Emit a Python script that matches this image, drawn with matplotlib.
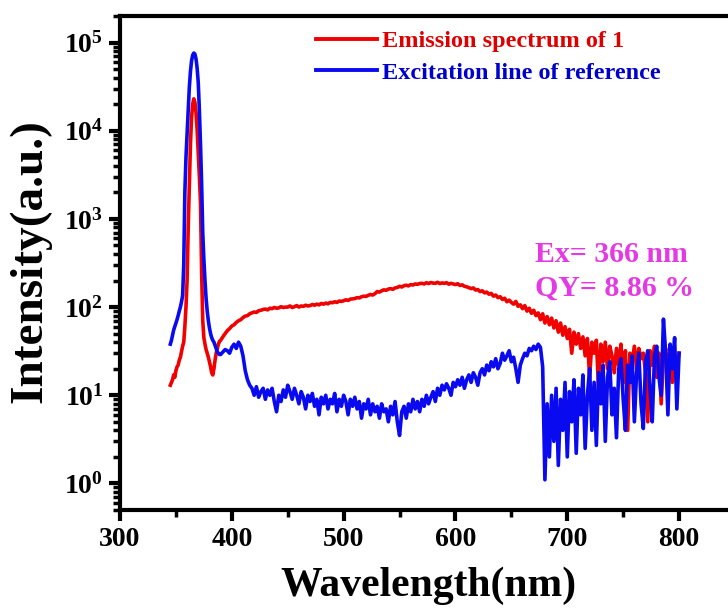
import numpy as np
import matplotlib
matplotlib.use("Agg")
import matplotlib.pyplot as plt
from matplotlib.ticker import FuncFormatter, LogLocator, MultipleLocator

# wavelength grid: 1 nm around the excitation peak, 2 nm after
wl_fine = np.arange(345, 390)
wl_coarse = np.arange(390, 801, 2)
wavelength = np.concatenate([wl_fine, wl_coarse])

emission_fine = [
    13, 14, 15, 17, 16, 19, 21, 22, 25, 27,
    31, 36, 40, 60, 100, 200, 800, 2500, 7000, 14000,
    20000, 23000, 21000, 16000, 10000, 5500, 3000, 1500, 250, 70,
    45, 38, 33, 30, 27, 24, 21, 18, 17, 20,
    25, 30, 34, 38, 41,
]
emission_coarse = [
    42, 46, 50, 54, 57, 61, 63, 67, 70, 72,
    76, 79, 80, 84, 86, 88, 87, 91, 92, 94,
    95, 93, 97, 96, 99, 97, 98, 101, 99, 100,
    100, 103, 99, 101, 104, 100, 103, 102, 105, 103,
    104, 107, 105, 108, 106, 110, 108, 111, 109, 113,
    112, 115, 113, 117, 116, 118, 121, 119, 123, 124,
    125, 128, 127, 131, 133, 132, 136, 139, 137, 142,
    150, 148, 153, 157, 155, 160, 162, 159, 165, 167,
    172, 169, 175, 177, 174, 180, 178, 183, 181, 185,
    186, 183, 189, 185, 190, 187, 186, 191, 185, 188,
    186, 189, 182, 186, 183, 180, 184, 176, 179, 172,
    170, 166, 162, 165, 156, 158, 150, 153, 145, 148,
    140, 143, 133, 137, 128, 131, 122, 126, 115, 120,
    113, 108, 116, 102, 106, 96, 104, 90, 97, 85,
    92, 80, 86, 72, 84, 66, 78, 63, 75, 58,
    70, 52, 66, 48, 60, 44, 56, 30, 52, 38,
    50, 34, 46, 28, 44, 16, 40, 30, 42, 12,
    38, 24, 40, 20, 36, 28, 18, 34, 22, 38,
    14, 32, 4, 30, 24, 36, 20, 34, 26, 30,
    18, 5, 32, 22, 36, 16, 30, 8, 28, 34,
    20, 30, 14, 28, 22, 30,
]

excitation_fine = [
    38, 42, 48, 55, 60, 66, 72, 80, 90, 100,
    115, 135, 300, 2000, 5000, 9500, 17000, 31000, 47000, 62000,
    72000, 76000, 74000, 65000, 51000, 35000, 17000, 7000, 2500, 700,
    350, 200, 125, 90, 70, 58, 50, 45, 42, 40,
    37, 34, 31, 30, 29,
]
excitation_coarse = [
    29, 31, 33, 32, 30, 35, 38, 34, 40, 36,
    28, 19, 15, 13, 12, 10, 12.5, 9.5, 11, 12,
    9, 11.5, 10, 12, 8.5, 6.5, 10, 8.5, 11.5, 9.5,
    13, 11, 9, 12, 10, 8, 11, 9.5, 7, 10,
    8.5, 10.5, 7.5, 9, 6, 9.5, 8, 10, 7, 9,
    8, 10.5, 6.5, 9, 7.5, 10, 8.5, 6, 9, 7.5,
    9.5, 7, 8.5, 5.5, 8, 7, 9, 6, 8, 6.5,
    7.5, 5.5, 8, 6.5, 7, 5, 7.5, 6, 8.5, 5,
    3.5, 6.5, 7.5, 5.5, 8, 6.5, 9, 7, 8.5, 6.5,
    9, 7.5, 10, 8, 9.5, 11, 8.5, 12, 10, 13,
    11.5, 13.5, 12, 10, 14, 12.5, 15, 13, 16, 12,
    15, 17, 14, 18, 16, 13, 18, 20, 17, 22,
    19, 24, 21, 26, 20, 23, 30, 25, 28, 32,
    24, 27, 20, 14, 22, 26, 30, 28, 34, 32,
    36, 33, 38, 35, 21, 1.1, 8, 2, 10, 3,
    12, 1.6, 9, 4, 14, 2, 11, 5, 15, 2.2,
    12, 6, 17, 2.5, 10, 20, 4, 14, 2.7, 18,
    8, 22, 3, 16, 24, 6, 12, 3.3, 20, 26,
    9, 4, 22, 14, 28, 5, 18, 30, 8, 4.2,
    24, 32, 12, 5, 28, 36, 16, 10, 73, 30,
    6, 38, 20, 45, 7, 30,
]

emission = np.array(emission_fine + emission_coarse, dtype=float)
excitation = np.array(excitation_fine + excitation_coarse, dtype=float)

x_ticks = [300, 400, 500, 600, 700, 800]
labels = ["Emission spectrum of 1", "Excitation line of reference"]
note_lines = ["Ex= 366 nm", "QY= 8.86 %"]

RED = "#F20000"
BLUE = "#0A0AF0"
MAGENTA = "#E33AE3"
SERIF = "Liberation Serif"

plt.rcParams["font.family"] = SERIF
plt.rcParams["font.weight"] = "bold"
plt.rcParams["mathtext.fontset"] = "custom"
plt.rcParams["mathtext.rm"] = "Liberation Serif:bold"
plt.rcParams["mathtext.bf"] = "Liberation Serif:bold"

fig = plt.figure(figsize=(7.28, 6.10), dpi=100)
ax = fig.add_axes([120 / 728, 100 / 610, 615 / 728, 494 / 610])

ax.plot(wavelength, emission, color=RED, lw=2.6, label=labels[0])
ax.plot(wavelength, excitation, color=BLUE, lw=2.6, label=labels[1])

ax.set_yscale("log")
ax.set_xlim(300, 850)
ax.set_ylim(0.5, 2e5)
ax.set_xticks(x_ticks)
ax.xaxis.set_minor_locator(MultipleLocator(50))
ax.yaxis.set_major_locator(LogLocator(base=10, numticks=10))
ax.yaxis.set_minor_locator(LogLocator(base=10, subs=np.arange(2, 10), numticks=20))
ax.yaxis.set_major_formatter(FuncFormatter(lambda v, p: r"$\mathbf{10^{%d}}$" % round(np.log10(v))))

for s in ax.spines.values():
    s.set_linewidth(3)
ax.tick_params(which="major", direction="out", length=8, width=3, labelsize=20, pad=4)
ax.tick_params(which="minor", direction="out", length=5, width=2.5)
ax.tick_params(top=False, right=False, which="both")
for lab in ax.get_xticklabels() + ax.get_yticklabels():
    lab.set_fontweight("bold")

ax.set_xlabel("Wavelength(nm)", fontsize=30, fontweight="bold")
ax.xaxis.set_label_coords((428 - 120) / 615, -0.115)
fig.text(30 / 728, 1 - 261 / 610, "Intensity(a.u.)", rotation=90, fontsize=34,
         fontweight="bold", ha="center", va="center")

leg = ax.legend(loc="upper left", bbox_to_anchor=(316 / 728, 1 - 30 / 610),
                bbox_transform=fig.transFigure, frameon=False, fontsize=17.5,
                handlelength=2.5, handletextpad=0.2, labelspacing=0.4,
                borderpad=0, borderaxespad=0)
for t, c in zip(leg.get_texts(), ["#DD0000", "#0000CC"]):
    t.set_color(c)
    t.set_fontweight("bold")
for h in leg.get_lines():
    h.set_linewidth(2.8)

fig.text(535 / 728, 1 - 262 / 610, note_lines[0], color=MAGENTA, fontsize=21.5,
         fontweight="bold", ha="left", va="baseline")
fig.text(535 / 728, 1 - 296 / 610, note_lines[1], color=MAGENTA, fontsize=21.5,
         fontweight="bold", ha="left", va="baseline")

fig.savefig("out.png", dpi=100)
